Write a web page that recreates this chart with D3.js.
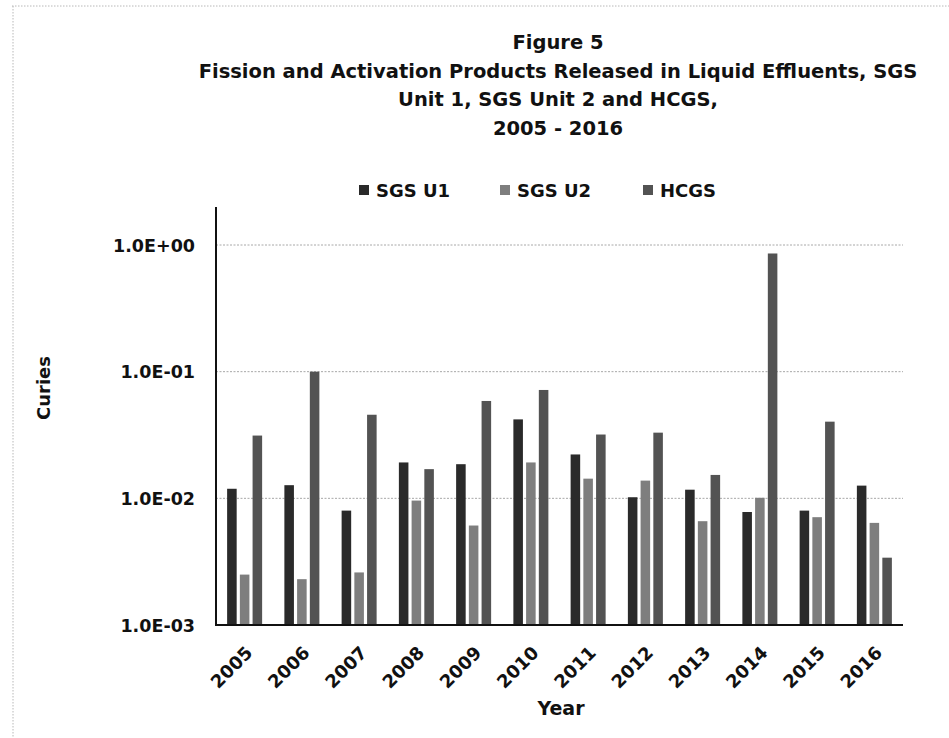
<!DOCTYPE html>
<html>
<head>
<meta charset="utf-8">
<script type="text/javascript" src="https://cdn.jsdelivr.net/npm/d3@7/dist/d3.min.js"></script>
<style>
    body { margin: 0; background: #fff; }
    text { font-family: "DejaVu Sans", sans-serif; font-weight: bold; fill: #111; }
    .grid line { stroke: #a8a8a8; stroke-dasharray: 2,1.5; }
</style>
</head>
<body>
<script>
// data (curies)
var years = ["2005","2006","2007","2008","2009","2010","2011","2012","2013","2014","2015","2016"];
var seriesNames = ["SGS U1", "SGS U2", "HCGS"];
var sgsU1 = [0.0119, 0.0127, 0.0080, 0.0192, 0.0186, 0.0420, 0.0222, 0.0102, 0.0117, 0.0078, 0.0080, 0.0126];
var sgsU2 = [0.0025, 0.0023, 0.0026, 0.0096, 0.0061, 0.0192, 0.0143, 0.0138, 0.0066, 0.0101, 0.0071, 0.0064];
var hcgs  = [0.0313, 0.1000, 0.0457, 0.0170, 0.0587, 0.0717, 0.0319, 0.0330, 0.0153, 0.8570, 0.0403, 0.0034];
var yTicks = [1e-3, 1e-2, 1e-1, 1];
var yTickLabels = ["1.0E-03", "1.0E-02", "1.0E-01", "1.0E+00"];
var colors = ["#2a2a2a", "#7e7e7e", "#535353"];
var titleLines = ["Figure 5",
    "Fission and Activation Products Released in Liquid Effluents, SGS",
    "Unit 1, SGS Unit 2 and HCGS,",
    "2005 - 2016"];

var values = [sgsU1, sgsU2, hcgs];

var width = 949, height = 738;
var svg = d3.select("body").append("svg")
    .attr("width", width)
    .attr("height", height);

// dotted frame (top and left edges of the scanned page)
svg.append("line").attr("x1", 12).attr("y1", 6).attr("x2", width).attr("y2", 6)
    .attr("stroke", "#b8b8b8").attr("stroke-dasharray", "1.5,1.5");
svg.append("line").attr("x1", 13).attr("y1", 6).attr("x2", 13).attr("y2", height)
    .attr("stroke", "#b8b8b8").attr("stroke-dasharray", "1.5,1.5");

// title
svg.selectAll("text.title")
    .data(titleLines)
    .enter().append("text")
        .attr("class", "title")
        .attr("x", 558)
        .attr("y", function(d, i) { return 49 + i * 28.5; })
        .attr("text-anchor", "middle")
        .style("font-size", "19.5px")
        .text(function(d) { return d; });

var plotLeft = 216, plotRight = 903, plotTop = 207, plotBottom = 625;

var x = d3.scaleBand().domain(years).range([plotLeft, plotRight]);
var xInner = d3.scaleBand().domain(seriesNames)
    .range([-17.5, 17.5]).paddingInner(0.25);
var y = d3.scaleLog().domain([1e-3, Math.pow(10, 0.3)]).range([plotBottom, plotTop]);

// gridlines
var grid = svg.append("g").attr("class", "grid");
grid.selectAll("line")
    .data(yTicks.slice(1))
    .enter().append("line")
        .attr("x1", plotLeft).attr("x2", plotRight)
        .attr("y1", function(d) { return y(d); })
        .attr("y2", function(d) { return y(d); });

// bars
seriesNames.forEach(function(name, s) {
    svg.append("g")
        .selectAll("rect")
        .data(values[s])
        .enter().append("rect")
            .attr("x", function(d, i) { return x(years[i]) + x.bandwidth() / 2 + xInner(name); })
            .attr("y", function(d) { return y(d); })
            .attr("width", xInner.bandwidth())
            .attr("height", function(d) { return plotBottom - y(d); })
            .attr("fill", colors[s]);
});

// y axis
var yAxis = d3.axisLeft(y)
    .tickValues(yTicks)
    .tickFormat(function(d, i) { return yTickLabels[i]; })
    .tickSize(0)
    .tickPadding(21);
var gy = svg.append("g").attr("transform", "translate(" + plotLeft + ",0)").call(yAxis);
gy.select(".domain").remove();
gy.selectAll("text").style("font-size", "17.5px").attr("dy", "0.36em");
svg.append("line").attr("x1", plotLeft).attr("x2", plotLeft).attr("y1", plotTop).attr("y2", plotBottom + 1)
    .attr("stroke", "#111").attr("stroke-width", 2);

// x axis
var xAxis = d3.axisBottom(x).tickSize(0).tickPadding(0);
var gx = svg.append("g").attr("transform", "translate(0," + plotBottom + ")").call(xAxis);
gx.select(".domain").remove();
gx.selectAll("text")
    .style("font-size", "18px")
    .attr("text-anchor", "end")
    .attr("dy", null)
    .attr("transform", "translate(9,29) rotate(-45)");
svg.append("line").attr("x1", plotLeft - 1).attr("x2", plotRight).attr("y1", plotBottom).attr("y2", plotBottom)
    .attr("stroke", "#111").attr("stroke-width", 2);

// axis titles
svg.append("text")
    .attr("x", 561).attr("y", 715)
    .attr("text-anchor", "middle")
    .style("font-size", "19px")
    .text("Year");
svg.append("text")
    .attr("transform", "translate(50,388) rotate(-90)")
    .attr("text-anchor", "middle")
    .style("font-size", "18px")
    .text("Curies");

// legend
var legendX = [359, 500, 643];
var legend = svg.append("g").selectAll("g")
    .data(seriesNames)
    .enter().append("g")
        .attr("transform", function(d, i) { return "translate(" + legendX[i] + ",185)"; });
legend.append("rect")
    .attr("width", 10).attr("height", 10)
    .attr("fill", function(d, i) { return colors[i]; });
legend.append("text")
    .attr("x", 17).attr("y", 11.5)
    .style("font-size", "18px")
    .text(function(d) { return d; });
</script>
</body>
</html>
